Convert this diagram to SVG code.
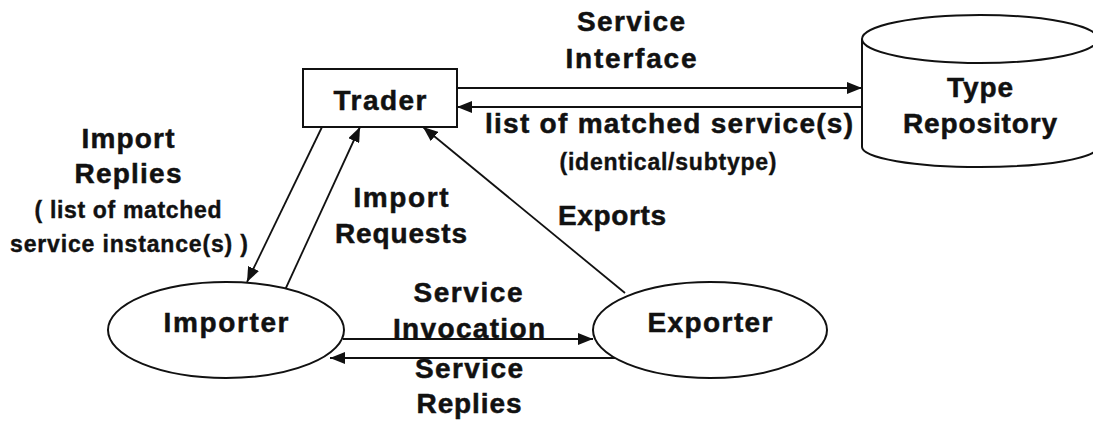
<svg xmlns="http://www.w3.org/2000/svg" width="1093" height="422" viewBox="0 0 1093 422">
<defs>
<marker id="ah" markerUnits="userSpaceOnUse" markerWidth="16" markerHeight="12" refX="15" refY="6" orient="auto">
<path d="M0,0 L15,6 L0,12 z" fill="#111"/>
</marker>
<style>
.shape{fill:#fff;stroke:#111;stroke-width:2}
.ln{stroke:#111;stroke-width:1.8;fill:none}
.t{font-family:"Liberation Sans",Arial,sans-serif;font-weight:bold;font-size:28px;fill:#111;stroke:#111;stroke-width:0.5;text-anchor:middle}
.s{font-size:23px;stroke-width:0.4}
</style>
</defs>
<rect width="1093" height="422" fill="#fff"/>
<g id="connectors">
<line class="ln" x1="457" y1="88" x2="862" y2="88" marker-end="url(#ah)"/>
<line class="ln" x1="862" y1="107" x2="457" y2="107" marker-end="url(#ah)"/>
<line class="ln" x1="322" y1="127" x2="247" y2="282" marker-end="url(#ah)"/>
<line class="ln" x1="285" y1="290" x2="360" y2="127" marker-end="url(#ah)"/>
<line class="ln" x1="625" y1="293" x2="423" y2="127" marker-end="url(#ah)"/>
<line class="ln" x1="343" y1="339" x2="593" y2="339" marker-end="url(#ah)"/>
<line class="ln" x1="615" y1="358" x2="330" y2="358" marker-end="url(#ah)"/>
</g>
<g id="trader">
<rect class="shape" x="303" y="69" width="154" height="58"/>
<text class="t" x="380" y="110" textLength="93">Trader</text>
</g>
<g id="type-repository">
<path class="shape" d="M862,39 L862,147 A118,20 0 0 0 1098,147 L1098,39"/>
<ellipse class="shape" cx="980" cy="39" rx="118" ry="24"/>
<text class="t" x="980" y="97" textLength="66">Type</text>
<text class="t" x="980" y="133" textLength="154">Repository</text>
</g>
<g id="importer">
<ellipse class="shape" cx="226" cy="330" rx="118" ry="48"/>
<text class="t" x="226" y="332" textLength="125">Importer</text>
</g>
<g id="exporter">
<ellipse class="shape" cx="710" cy="330" rx="117" ry="48"/>
<text class="t" x="710" y="332" textLength="125">Exporter</text>
</g>
<g id="labels">
<text class="t" x="631" y="31" textLength="108">Service</text>
<text class="t" x="631" y="68" textLength="131">Interface</text>
<text class="t" x="669" y="133" textLength="368">list of matched service(s)</text>
<text class="t s" x="668" y="170" textLength="217">(identical/subtype)</text>
<text class="t" x="128" y="148" textLength="93">Import</text>
<text class="t" x="128" y="183" textLength="107">Replies</text>
<text class="t s" x="128" y="218" textLength="187">( list of matched</text>
<text class="t s" x="129" y="252" textLength="238">service instance(s) )</text>
<text class="t" x="401" y="207" textLength="95">Import</text>
<text class="t" x="401" y="243" textLength="132">Requests</text>
<text class="t" x="612" y="225" textLength="108">Exports</text>
<text class="t" x="468" y="302" textLength="109">Service</text>
<text class="t" x="469" y="338" textLength="152">Invocation</text>
<text class="t" x="469" y="378" textLength="108">Service</text>
<text class="t" x="469" y="413" textLength="105">Replies</text>
</g>
</svg>
